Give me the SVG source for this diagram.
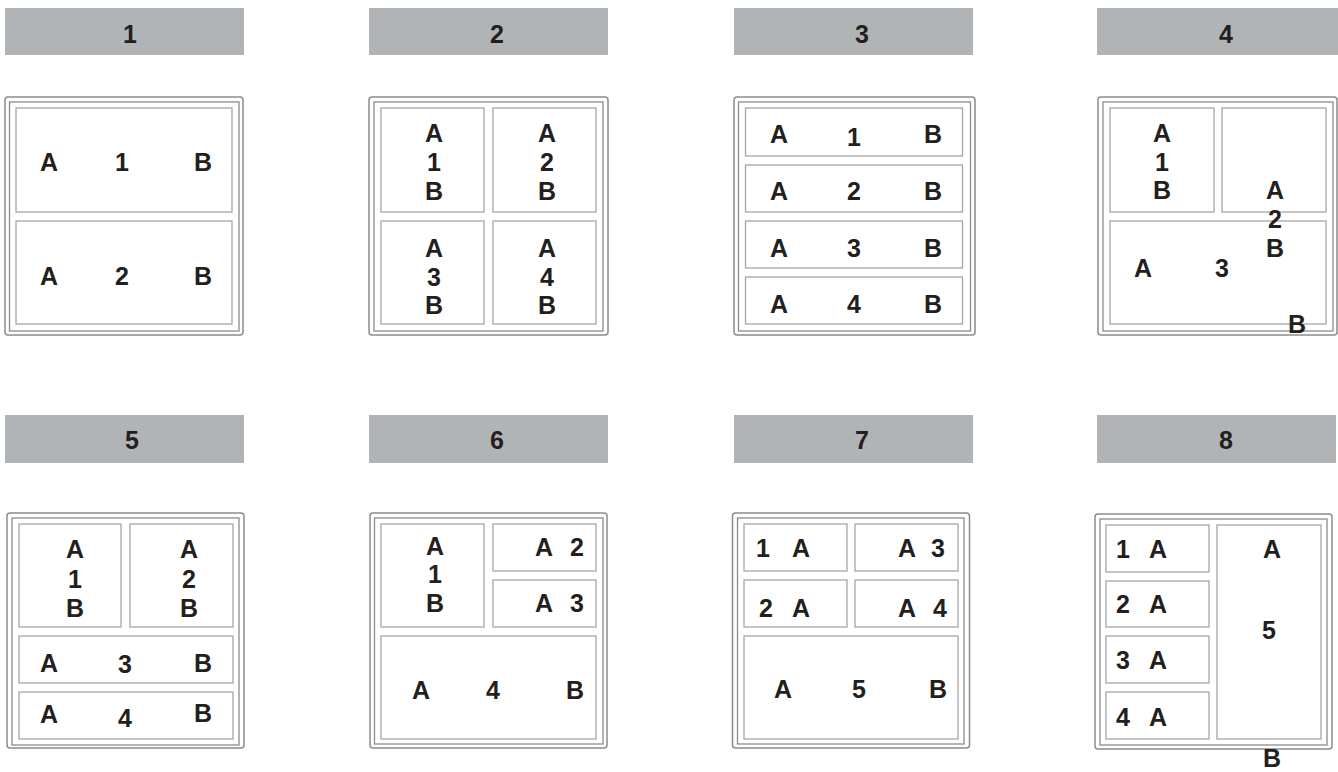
<svg xmlns="http://www.w3.org/2000/svg" width="1338" height="772" viewBox="0 0 1338 772">
<style>
.hdr{fill:#b1b4b6}
.outer{fill:#fff;stroke:#8c8c8c;stroke-width:1.5}
.inner{fill:none;stroke:#8c8c8c;stroke-width:1.3}
.cell{fill:#fff;stroke:#a6a6a6;stroke-width:1.3}
text{font-family:"Liberation Sans",Arial,sans-serif;font-weight:bold;font-size:25px;fill:#231f20;text-anchor:middle}
</style>
<rect width="1338" height="772" fill="#fff"/>

<g id="panel1">
<rect class="hdr" x="5" y="8" width="239" height="47"/>
<text x="130" y="43">1</text>
<rect class="outer" x="5" y="97" width="238" height="238" rx="3"/>
<rect class="inner" x="9.5" y="102" width="229.5" height="229"/>
<g id="p1c1"><rect class="cell" x="16" y="108" width="216" height="104"/>
<text x="49" y="171">A</text><text x="122" y="171">1</text><text x="203" y="171">B</text></g>
<g id="p1c2"><rect class="cell" x="16" y="221" width="216" height="103"/>
<text x="49" y="285">A</text><text x="122" y="285">2</text><text x="203" y="285">B</text></g>
</g>

<g id="panel2">
<rect class="hdr" x="369" y="8" width="239" height="47"/>
<text x="497" y="43">2</text>
<rect class="outer" x="369" y="97" width="239" height="238" rx="3"/>
<rect class="inner" x="374" y="102" width="229" height="229"/>
<g id="p2c1"><rect class="cell" x="381" y="108" width="103" height="104"/>
<text x="434" y="142">A</text><text x="434" y="171">1</text><text x="434" y="200">B</text></g>
<g id="p2c2"><rect class="cell" x="493" y="108" width="103" height="104"/>
<text x="547" y="142">A</text><text x="547" y="171">2</text><text x="547" y="200">B</text></g>
<g id="p2c3"><rect class="cell" x="381" y="221" width="103" height="103"/>
<text x="434" y="257">A</text><text x="434" y="286">3</text><text x="434" y="314">B</text></g>
<g id="p2c4"><rect class="cell" x="493" y="221" width="103" height="103"/>
<text x="547" y="257">A</text><text x="547" y="286">4</text><text x="547" y="314">B</text></g>
</g>

<g id="panel3">
<rect class="hdr" x="734" y="8" width="239" height="47"/>
<text x="862" y="43">3</text>
<rect class="outer" x="734" y="97" width="241" height="238" rx="3"/>
<rect class="inner" x="738.5" y="102" width="232" height="229"/>
<g id="p3c1"><rect class="cell" x="745.5" y="108" width="217" height="48"/>
<text x="779" y="143">A</text><text x="854" y="146">1</text><text x="933" y="143">B</text></g>
<g id="p3c2"><rect class="cell" x="745.5" y="165" width="217" height="47"/>
<text x="779" y="200">A</text><text x="854" y="200">2</text><text x="933" y="200">B</text></g>
<g id="p3c3"><rect class="cell" x="745.5" y="221" width="217" height="47"/>
<text x="779" y="257">A</text><text x="854" y="257">3</text><text x="933" y="257">B</text></g>
<g id="p3c4"><rect class="cell" x="745.5" y="277" width="217" height="47"/>
<text x="779" y="313">A</text><text x="854" y="313">4</text><text x="933" y="313">B</text></g>
</g>

<g id="panel4">
<rect class="hdr" x="1097" y="8" width="241" height="47"/>
<text x="1226" y="43">4</text>
<rect class="outer" x="1098" y="97" width="239" height="238" rx="3"/>
<rect class="inner" x="1103" y="102" width="230" height="229"/>
<g id="p4c1"><rect class="cell" x="1110" y="108" width="104" height="104"/>
<text x="1162" y="142">A</text><text x="1162" y="171">1</text><text x="1162" y="199">B</text></g>
<g id="p4c3"><rect class="cell" x="1110" y="221" width="216" height="103"/>
<text x="1143" y="277">A</text><text x="1222" y="277">3</text><text x="1297" y="333">B</text></g>
<g id="p4c2"><rect class="cell" x="1222" y="108" width="104" height="104"/>
<text x="1275" y="199">A</text><text x="1275" y="228">2</text><text x="1275" y="257">B</text></g>
</g>

<g id="panel5">
<rect class="hdr" x="5" y="415" width="239" height="48"/>
<text x="132" y="449">5</text>
<rect class="outer" x="7" y="513" width="237" height="235" rx="3"/>
<rect class="inner" x="12" y="518" width="227" height="227"/>
<g id="p5c1"><rect class="cell" x="19" y="524" width="102" height="103"/>
<text x="75" y="558">A</text><text x="75" y="588">1</text><text x="75" y="617">B</text></g>
<g id="p5c2"><rect class="cell" x="130" y="524" width="103" height="103"/>
<text x="189" y="558">A</text><text x="189" y="588">2</text><text x="189" y="617">B</text></g>
<g id="p5c3"><rect class="cell" x="19" y="636" width="214" height="47"/>
<text x="49" y="672">A</text><text x="125" y="673">3</text><text x="203" y="672">B</text></g>
<g id="p5c4"><rect class="cell" x="19" y="692" width="214" height="47"/>
<text x="49" y="723">A</text><text x="125" y="727">4</text><text x="203" y="722">B</text></g>
</g>

<g id="panel6">
<rect class="hdr" x="369" y="415" width="239" height="48"/>
<text x="497" y="449">6</text>
<rect class="outer" x="370" y="513" width="237" height="235" rx="3"/>
<rect class="inner" x="374.5" y="518" width="228.5" height="226"/>
<g id="p6c1"><rect class="cell" x="381" y="524" width="103" height="103"/>
<text x="435" y="555">A</text><text x="435" y="583">1</text><text x="435" y="612">B</text></g>
<g id="p6c2"><rect class="cell" x="493" y="524" width="103" height="47"/>
<text x="544" y="556">A</text><text x="577" y="556">2</text></g>
<g id="p6c3"><rect class="cell" x="493" y="580" width="103" height="47"/>
<text x="544" y="612">A</text><text x="577" y="612">3</text></g>
<g id="p6c4"><rect class="cell" x="381" y="636" width="215" height="103"/>
<text x="421" y="699">A</text><text x="493" y="699">4</text><text x="575" y="699">B</text></g>
</g>

<g id="panel7">
<rect class="hdr" x="734" y="415" width="239" height="48"/>
<text x="862" y="449">7</text>
<rect class="outer" x="732.5" y="513" width="237" height="235" rx="3"/>
<rect class="inner" x="737.5" y="518" width="226.5" height="226"/>
<g id="p7c1"><rect class="cell" x="744" y="524" width="103" height="47"/>
<text x="763" y="557">1</text><text x="801" y="557">A</text></g>
<g id="p7c2"><rect class="cell" x="855" y="524" width="103" height="47"/>
<text x="907" y="557">A</text><text x="938" y="557">3</text></g>
<g id="p7c3"><rect class="cell" x="744" y="580" width="103" height="47"/>
<text x="766" y="617">2</text><text x="801" y="617">A</text></g>
<g id="p7c4"><rect class="cell" x="855" y="580" width="103" height="47"/>
<text x="907" y="617">A</text><text x="940" y="617">4</text></g>
<g id="p7c5"><rect class="cell" x="744" y="636" width="214" height="103"/>
<text x="783" y="698">A</text><text x="859" y="698">5</text><text x="938" y="698">B</text></g>
</g>

<g id="panel8">
<rect class="hdr" x="1097" y="415" width="239" height="48"/>
<text x="1226" y="449">8</text>
<rect class="outer" x="1095" y="514" width="237" height="235" rx="3"/>
<rect class="inner" x="1100" y="519" width="227" height="226"/>
<g id="p8c1"><rect class="cell" x="1106" y="525" width="103" height="47"/>
<text x="1123" y="558">1</text><text x="1158" y="558">A</text></g>
<g id="p8c2"><rect class="cell" x="1106" y="581" width="103" height="46"/>
<text x="1123" y="613">2</text><text x="1158" y="613">A</text></g>
<g id="p8c3"><rect class="cell" x="1106" y="636" width="103" height="47"/>
<text x="1123" y="669">3</text><text x="1158" y="669">A</text></g>
<g id="p8c4"><rect class="cell" x="1106" y="692" width="103" height="47"/>
<text x="1123" y="726">4</text><text x="1158" y="726">A</text></g>
<g id="p8c5"><rect class="cell" x="1217" y="525" width="104" height="214"/>
<text x="1272" y="558">A</text><text x="1269" y="639">5</text><text x="1272" y="767">B</text></g>
</g>
</svg>
